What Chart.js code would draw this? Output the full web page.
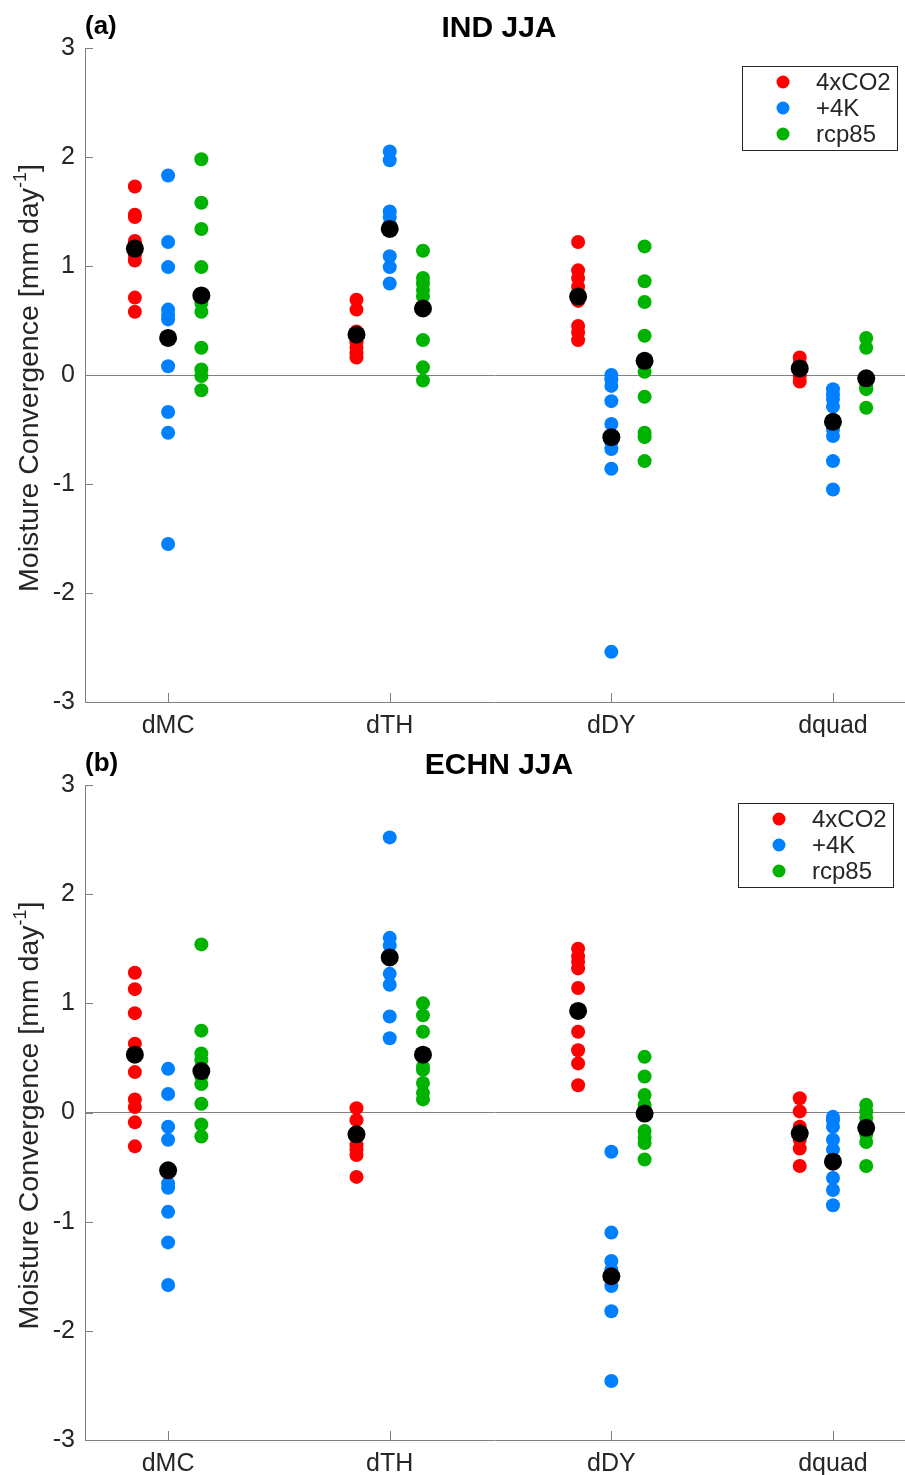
<!DOCTYPE html>
<html>
<head>
<meta charset="utf-8">
<script src="https://cdn.jsdelivr.net/npm/chart.js@4.4.1/dist/chart.umd.min.js"></script>
<style>
  html, body { margin: 0; padding: 0; background: #fff; }
  .panel { position: absolute; left: 0; width: 905px; }
</style>
</head>
<body>
<div class="panel" style="top:0;height:737px"><canvas id="chartA" width="905" height="737"></canvas></div>
<div class="panel" style="top:737px;height:738px"><canvas id="chartB" width="905" height="738"></canvas></div>
<script>
// categories and series
const categories = ['dMC', 'dTH', 'dDY', 'dquad'];
const seriesNames = ['4xCO2', '+4K', 'rcp85'];
const seriesColors = ['#ff0000', '#0080ff', '#00b300'];
const seriesOffsets = [-0.15, 0, 0.15];
const yTicks = [-3, -2, -1, 0, 1, 2, 3];

// (a) IND JJA - one list per category
const indCO2 = [
  [1.73, 1.47, 1.45, 1.23, 1.20, 1.10, 1.05, 0.71, 0.58],
  [0.69, 0.60, 0.40, 0.30, 0.25, 0.20, 0.16],
  [1.22, 0.96, 0.89, 0.81, 0.72, 0.68, 0.45, 0.39, 0.32],
  [0.16, 0.11, 0.06, -0.01, -0.06]
];
const ind4K = [
  [1.83, 1.22, 0.99, 0.60, 0.55, 0.51, 0.08, -0.34, -0.53, -1.55],
  [2.05, 1.97, 1.50, 1.45, 1.38, 1.09, 0.99, 0.84],
  [0.00, -0.04, -0.10, -0.24, -0.45, -0.57, -0.62, -0.68, -0.86, -2.54],
  [-0.13, -0.18, -0.22, -0.29, -0.43, -0.50, -0.56, -0.79, -1.05]
];
const indRCP = [
  [1.98, 1.58, 1.34, 0.99, 0.66, 0.58, 0.25, 0.05, -0.01, -0.14],
  [1.14, 0.89, 0.84, 0.78, 0.72, 0.61, 0.32, 0.07, -0.05],
  [1.18, 0.86, 0.67, 0.36, 0.10, 0.03, -0.20, -0.53, -0.57, -0.79],
  [0.34, 0.25, -0.03, -0.10, -0.13, -0.30]
];
const indMeans = [
  [1.16, 0.37, 0.72, 0.06],
  [0.34, 1.34, -0.57, -0.43],
  [0.73, 0.61, 0.13, -0.03]
];

// (b) ECHN JJA
const echnCO2 = [
  [1.28, 1.13, 0.91, 0.63, 0.37, 0.12, 0.05, -0.09, -0.31],
  [0.04, -0.07, -0.20, -0.30, -0.34, -0.39, -0.59],
  [1.50, 1.43, 1.38, 1.32, 1.14, 0.74, 0.57, 0.45, 0.25],
  [0.13, 0.01, -0.13, -0.25, -0.33, -0.49]
];
const echn4K = [
  [0.40, 0.17, -0.13, -0.25, -0.65, -0.69, -0.91, -1.19, -1.58],
  [2.52, 1.60, 1.53, 1.27, 1.17, 0.88, 0.68],
  [-0.36, -1.10, -1.36, -1.44, -1.59, -1.82, -2.46],
  [-0.04, -0.07, -0.13, -0.25, -0.34, -0.60, -0.71, -0.85]
];
const echnRCP = [
  [1.54, 0.75, 0.54, 0.48, 0.33, 0.26, 0.08, -0.11, -0.22],
  [1.00, 0.89, 0.74, 0.42, 0.39, 0.27, 0.18, 0.12],
  [0.51, 0.33, 0.16, 0.07, -0.17, -0.23, -0.28, -0.43],
  [0.07, 0.01, -0.05, -0.20, -0.27, -0.49]
];
const echnMeans = [
  [0.53, -0.20, 0.93, -0.19],
  [-0.53, 1.42, -1.50, -0.45],
  [0.38, 0.53, -0.01, -0.14]
];

const FONT = '"Liberation Sans", Arial, Helvetica, sans-serif';
const TEXT = '#262626';
const AXIS = '#808080';

// turn the lists into scatter datasets (means last, drawn on top)
function buildDatasets(members, means) {
  const sets = members.map((series, s) => ({
    label: seriesNames[s],
    data: series.flatMap((vals, c) => vals.map(v => ({ x: c + 1 + seriesOffsets[s], y: v }))),
    backgroundColor: seriesColors[s],
    pointRadius: 7,
    borderWidth: 0,
    order: 1
  }));
  sets.push({
    label: 'mean',
    data: means.flatMap((vals, s) => vals.map((v, c) => ({ x: c + 1 + seriesOffsets[s], y: v }))),
    backgroundColor: '#000000',
    pointRadius: 9,
    borderWidth: 0,
    order: 0
  });
  return sets;
}

// titles, inward ticks, y label with superscript, boxed legend
const panelDecor = {
  id: 'panelDecor',
  afterDraw(chart, args, opts) {
    const ctx = chart.ctx;
    const area = chart.chartArea;
    const xs = chart.scales.x, ys = chart.scales.y;
    ctx.save();

    // inward ticks
    ctx.strokeStyle = AXIS;
    ctx.lineWidth = 1;
    ctx.beginPath();
    yTicks.forEach(v => {
      const py = Math.round(ys.getPixelForValue(v)) + 0.5;
      ctx.moveTo(area.left, py);
      ctx.lineTo(area.left + 8, py);
    });
    categories.forEach((c, i) => {
      const px = Math.round(xs.getPixelForValue(i + 1)) + 0.5;
      ctx.moveTo(px, area.bottom);
      ctx.lineTo(px, area.bottom - 9);
    });
    ctx.stroke();

    // titles
    ctx.fillStyle = '#000';
    ctx.textBaseline = 'alphabetic';
    ctx.font = 'bold 30px ' + FONT;
    ctx.textAlign = 'center';
    ctx.fillText(opts.title, (area.left + area.right) / 2 + 4, 37);
    ctx.font = 'bold 26px ' + FONT;
    ctx.textAlign = 'left';
    ctx.fillText(opts.letter, area.left, 34);

    // y axis title
    ctx.fillStyle = TEXT;
    ctx.translate(38, (area.top + area.bottom) / 2 + 3);
    ctx.rotate(-Math.PI / 2);
    const main = 'Moisture Convergence [mm day';
    const sup = '-1';
    const end = ']';
    ctx.font = '28.5px ' + FONT;
    const w1 = ctx.measureText(main).width;
    const w3 = ctx.measureText(end).width;
    ctx.font = '18px ' + FONT;
    const w2 = ctx.measureText(sup).width;
    const x0 = -(w1 + w2 + w3) / 2;
    ctx.textAlign = 'left';
    ctx.font = '28.5px ' + FONT;
    ctx.fillText(main, x0, 0);
    ctx.font = '18px ' + FONT;
    ctx.fillText(sup, x0 + w1, -12);
    ctx.font = '28.5px ' + FONT;
    ctx.fillText(end, x0 + w1 + w2, 0);
    ctx.setTransform(1, 0, 0, 1, 0, 0);

    // legend
    const bw = 155, bh = 84;
    const bx = area.right - opts.legendRight - bw;
    const by = area.top + 18;
    ctx.fillStyle = '#fff';
    ctx.fillRect(bx, by, bw, bh);
    ctx.strokeStyle = TEXT;
    ctx.strokeRect(bx + 0.5, by + 0.5, bw, bh);
    ctx.font = '24px ' + FONT;
    ctx.textBaseline = 'middle';
    seriesNames.forEach((name, i) => {
      const ry = by + 16 + i * 26;
      ctx.fillStyle = seriesColors[i];
      ctx.beginPath();
      ctx.arc(bx + 41, ry, 6.5, 0, Math.PI * 2);
      ctx.fill();
      ctx.fillStyle = TEXT;
      ctx.fillText(name, bx + 74, ry + 1);
    });
    ctx.restore();
  }
};

function makeChart(id, members, means, title, letter, legendRight) {
  return new Chart(document.getElementById(id), {
    type: 'scatter',
    data: { datasets: buildDatasets(members, means) },
    plugins: [panelDecor],
    options: {
      responsive: false,
      animation: false,
      events: [],
      devicePixelRatio: 1,
      layout: { autoPadding: false, padding: { top: 48, left: 0, right: 0, bottom: 0 } },
      plugins: {
        legend: { display: false },
        tooltip: { enabled: false },
        panelDecor: { title, letter, legendRight }
      },
      scales: {
        x: {
          type: 'linear',
          min: 0.625,
          max: 4.325,
          afterBuildTicks: ax => { ax.ticks = categories.map((c, i) => ({ value: i + 1 })); },
          afterFit: s => { s.height = 35; },
          ticks: {
            callback: v => categories[Math.round(v) - 1],
            font: { family: FONT, size: 25 },
            color: TEXT,
            padding: 9,
            maxRotation: 0,
            autoSkip: false
          },
          grid: { display: false, drawTicks: false },
          border: { display: true, color: AXIS, width: 1 }
        },
        y: {
          min: -3,
          max: 3,
          afterBuildTicks: ax => { ax.ticks = yTicks.map(v => ({ value: v })); },
          afterFit: s => { s.width = 85; },
          ticks: {
            font: { family: FONT, size: 25 },
            color: TEXT,
            padding: 10
          },
          grid: {
            drawTicks: false,
            lineWidth: 1,
            color: c => (c.tick && c.tick.value === 0 ? AXIS : 'rgba(0,0,0,0)')
          },
          border: { display: true, color: AXIS, width: 1 }
        }
      }
    }
  });
}

makeChart('chartA', [indCO2, ind4K, indRCP], indMeans, 'IND JJA', '(a)', 8);
makeChart('chartB', [echnCO2, echn4K, echnRCP], echnMeans, 'ECHN JJA', '(b)', 12);
</script>
</body>
</html>
